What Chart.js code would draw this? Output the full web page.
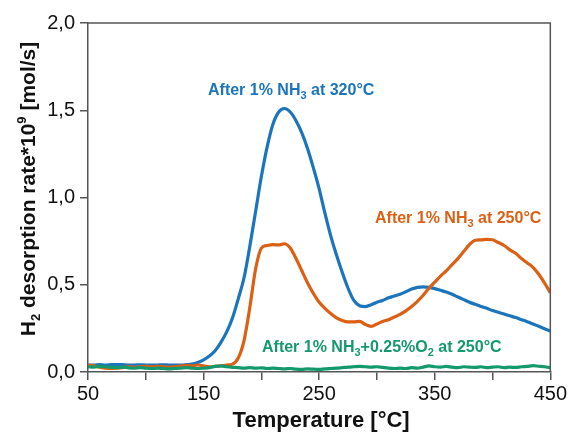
<!DOCTYPE html>
<html>
<head>
<meta charset="utf-8">
<script src="https://cdn.jsdelivr.net/npm/chart.js@4/dist/chart.umd.min.js"></script>
<style>
  html, body { margin: 0; padding: 0; background: #fff; }
  #wrap { width: 569px; height: 433px; position: relative; }
</style>
</head>
<body>
<div id="wrap"><canvas id="c" width="569" height="433"></canvas></div>
<script>
// ---- data ----
const temperatures = [50,55,60,65,70,75,80,85,90,95,100,105,110,115,120,125,130,135,140,145,150,155,160,165,170,175,180,185,190,195,200,205,210,215,220,225,230,235,240,245,250,255,260,265,270,275,280,285,290,295,300,305,310,315,320,325,330,335,340,345,350,355,360,365,370,375,380,385,390,395,400,405,410,415,420,425,430,435,440,445,450];

const blue320 = [0.040,0.040,0.042,0.040,0.042,0.043,0.042,0.040,0.040,0.041,0.040,0.040,0.040,0.041,0.040,0.040,0.040,0.042,0.045,0.055,0.070,0.092,0.122,0.170,0.230,0.310,0.420,0.540,0.720,0.920,1.120,1.290,1.420,1.490,1.510,1.490,1.440,1.370,1.280,1.170,1.050,0.910,0.780,0.670,0.570,0.480,0.410,0.380,0.375,0.385,0.400,0.410,0.425,0.435,0.445,0.460,0.475,0.485,0.488,0.485,0.478,0.468,0.458,0.445,0.430,0.415,0.400,0.388,0.376,0.365,0.352,0.342,0.332,0.322,0.312,0.300,0.288,0.275,0.262,0.248,0.235];

const orange250 = [0.040,0.035,0.028,0.022,0.020,0.022,0.025,0.030,0.028,0.030,0.032,0.030,0.033,0.030,0.028,0.030,0.034,0.038,0.035,0.040,0.035,0.030,0.032,0.035,0.040,0.045,0.080,0.180,0.370,0.590,0.710,0.725,0.730,0.728,0.735,0.710,0.650,0.580,0.510,0.450,0.400,0.365,0.335,0.310,0.295,0.287,0.287,0.290,0.272,0.262,0.275,0.290,0.300,0.315,0.330,0.350,0.375,0.405,0.440,0.480,0.515,0.550,0.580,0.615,0.650,0.690,0.730,0.755,0.757,0.760,0.758,0.742,0.725,0.700,0.680,0.650,0.625,0.600,0.560,0.510,0.455];

const green250O2 = [0.030,0.028,0.032,0.030,0.027,0.025,0.028,0.024,0.022,0.025,0.022,0.020,0.022,0.020,0.018,0.020,0.022,0.025,0.022,0.020,0.022,0.025,0.032,0.035,0.030,0.027,0.025,0.022,0.025,0.022,0.024,0.020,0.022,0.020,0.018,0.020,0.016,0.015,0.018,0.016,0.015,0.018,0.020,0.022,0.025,0.028,0.030,0.032,0.030,0.028,0.030,0.026,0.022,0.020,0.022,0.020,0.025,0.022,0.028,0.035,0.030,0.028,0.032,0.028,0.025,0.030,0.028,0.026,0.030,0.025,0.028,0.030,0.025,0.028,0.026,0.030,0.032,0.036,0.033,0.030,0.025];

const xTickValues = [50,150,250,350,450];
const xTickLabels = ['50','150','250','350','450'];
const yTickValues = [0,0.5,1,1.5,2];
const yTickLabels = ['0,0','0,5','1,0','1,5','2,0'];

const COL_BLUE = '#1b75bc';
const COL_ORANGE = '#dc6014';
const COL_GREEN = '#14996c';
const AXIS_COL = '#555555';
const FONT = '"Liberation Sans", Arial, sans-serif';

function pts(vals) { return temperatures.map((t, i) => ({ x: t, y: vals[i] })); }

// draws a run of text pieces: [text, size, dy]
function drawRuns(ctx, runs, x, y, color, align) {
  let total = 0;
  runs.forEach(r => { ctx.font = 'bold ' + r[1] + 'px ' + FONT; total += ctx.measureText(r[0]).width; });
  let cx = align === 'center' ? x - total / 2 : x;
  ctx.fillStyle = color;
  ctx.textBaseline = 'alphabetic';
  ctx.textAlign = 'left';
  runs.forEach(r => {
    ctx.font = 'bold ' + r[1] + 'px ' + FONT;
    ctx.fillText(r[0], cx, y + r[2]);
    cx += ctx.measureText(r[0]).width;
  });
}

const decor = {
  id: 'decor',
  afterDraw(chart) {
    const ctx = chart.ctx, a = chart.chartArea;
    ctx.save();
    // frame top & right
    ctx.strokeStyle = AXIS_COL; ctx.lineWidth = 1.5;
    ctx.beginPath();
    ctx.moveTo(a.left, a.top); ctx.lineTo(a.right, a.top); ctx.lineTo(a.right, a.bottom);
    ctx.stroke();
    // annotations
    drawRuns(ctx, [['After 1% NH', 16, 0], ['3', 11, 4], [' at 320°C', 16, 0]], 208, 95, COL_BLUE, 'left');
    drawRuns(ctx, [['After 1% NH', 16, 0], ['3', 11, 4], [' at 250°C', 16, 0]], 375, 223, COL_ORANGE, 'left');
    drawRuns(ctx, [['After 1% NH', 16, 0], ['3', 11, 4], ['+0.25%O', 16, 0], ['2', 11, 4], [' at 250°C', 16, 0]], 262, 352, COL_GREEN, 'left');
    // axis titles
    drawRuns(ctx, [['Temperature [°C]', 22, 0]], (a.left + a.right) / 2 + 2, 427, '#111', 'center');
    ctx.translate(35, 189);
    ctx.rotate(-Math.PI / 2);
    drawRuns(ctx, [['H', 21, 0], ['2', 13, 5], [' desorption rate*10', 21, 0], ['9', 13, -9], [' [mol/s]', 21, 0]], 0, 0, '#111', 'center');
    ctx.restore();
  }
};

new Chart(document.getElementById('c'), {
  type: 'line',
  data: {
    datasets: [
      { label: 'After 1% NH3+0.25%O2 at 250°C', data: pts(green250O2), borderColor: COL_GREEN },
      { label: 'After 1% NH3 at 250°C', data: pts(orange250), borderColor: COL_ORANGE },
      { label: 'After 1% NH3 at 320°C', data: pts(blue320), borderColor: COL_BLUE }
    ].map(d => Object.assign(d, { borderWidth: 3.2, pointRadius: 0, fill: false, cubicInterpolationMode: 'monotone' }))
  },
  options: {
    responsive: false,
    animation: false,
    events: [],
    layout: { padding: { left: 0, top: 23, right: 18, bottom: 0 } },
    plugins: { legend: { display: false }, tooltip: { enabled: false } },
    scales: {
      x: {
        type: 'linear', min: 50, max: 450,
        afterFit: s => { s.height = 61; },
        afterBuildTicks: s => { s.ticks = [50,100,150,200,250,300,350,400,450].map(v => ({ value: v })); },
        ticks: {
          autoSkip: false, maxRotation: 0, padding: 2,
          color: '#111', font: { family: FONT, size: 20 },
          callback: v => { const i = xTickValues.indexOf(v); return i >= 0 ? xTickLabels[i] : ''; }
        },
        grid: { drawOnChartArea: false, drawTicks: true, tickLength: 8, color: AXIS_COL, lineWidth: 1.5 },
        border: { color: AXIS_COL, width: 1.5 }
      },
      y: {
        type: 'linear', min: 0, max: 2,
        afterFit: s => { s.width = 88; },
        afterBuildTicks: s => { s.ticks = yTickValues.map(v => ({ value: v })); },
        ticks: {
          autoSkip: false, padding: 5,
          color: '#111', font: { family: FONT, size: 20 },
          callback: v => { const i = yTickValues.indexOf(v); return i >= 0 ? yTickLabels[i] : ''; }
        },
        grid: { drawOnChartArea: false, drawTicks: true, tickLength: 8, color: AXIS_COL, lineWidth: 1.5 },
        border: { color: AXIS_COL, width: 1.5 }
      }
    }
  },
  plugins: [decor]
});
</script>
</body>
</html>
